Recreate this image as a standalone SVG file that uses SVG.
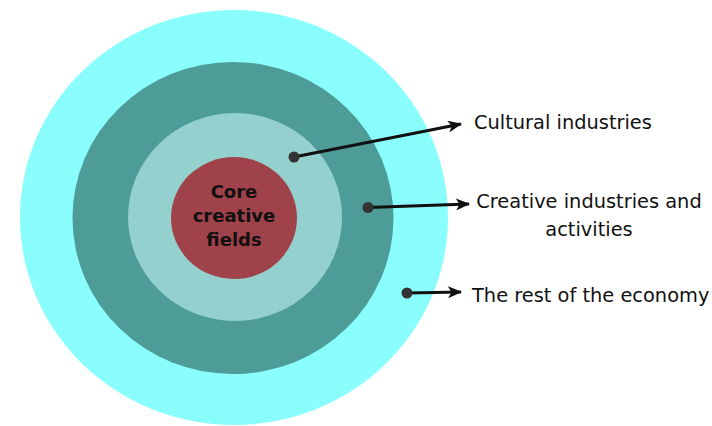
<svg xmlns="http://www.w3.org/2000/svg" width="712" height="426" viewBox="0 0 712 426">
  <defs>
    <marker id="arrow" viewBox="0 0 14 12" refX="13" refY="6" markerWidth="14" markerHeight="12" markerUnits="userSpaceOnUse" orient="auto">
      <path d="M0,0 L14,6 L0,12 L3.5,6 Z" fill="#111"/>
    </marker>
  </defs>
  <style>
    .ring-outer { fill: #8afdfd; }
    .ring-mid { fill: #4e9c98; }
    .ring-inner { fill: #94d0ce; }
    .core { fill: #a0424a; }
    .core-text { font-family: "DejaVu Sans", "Liberation Sans", sans-serif; font-weight: bold; font-size: 18px; fill: #111; text-anchor: middle; }
    .label { font-family: "DejaVu Sans", "Liberation Sans", sans-serif; font-size: 19.4px; fill: #111; }
    .conn { stroke: #111; stroke-width: 3.2; fill: none; marker-end: url(#arrow); }
    .dot { fill: #333; }
  </style>
  <rect width="712" height="426" fill="#ffffff"/>

  <!-- concentric rings -->
  <g id="rest-of-economy">
    <ellipse class="ring-outer" cx="234" cy="217.5" rx="214" ry="207.5"/>
  </g>
  <g id="creative-industries">
    <ellipse class="ring-mid" cx="233" cy="218" rx="160.5" ry="156"/>
  </g>
  <g id="cultural-industries">
    <ellipse class="ring-inner" cx="235" cy="217" rx="107" ry="104"/>
  </g>
  <g id="core-fields">
    <ellipse class="core" cx="234" cy="218" rx="63" ry="61"/>
    <text class="core-text" x="234" y="198">Core</text>
    <text class="core-text" x="234" y="222">creative</text>
    <text class="core-text" x="234" y="246">fields</text>
  </g>

  <!-- connectors from each ring to its label -->
  <g id="connectors">
    <line class="conn" x1="294" y1="157" x2="461" y2="124"/>
    <circle class="dot" cx="294" cy="157" r="5.5"/>
    <line class="conn" x1="368" y1="207.5" x2="469" y2="204"/>
    <circle class="dot" cx="368" cy="207.5" r="5.5"/>
    <line class="conn" x1="407" y1="293" x2="461" y2="292"/>
    <circle class="dot" cx="407" cy="293" r="5.5"/>
  </g>

  <!-- labels -->
  <g id="label-cultural">
    <text class="label" x="474" y="129">Cultural industries</text>
  </g>
  <g id="label-creative">
    <text class="label" x="589" y="208" text-anchor="middle">Creative industries and</text>
    <text class="label" x="589" y="236" text-anchor="middle">activities</text>
  </g>
  <g id="label-rest">
    <text class="label" x="472" y="302">The rest of the economy</text>
  </g>
</svg>
